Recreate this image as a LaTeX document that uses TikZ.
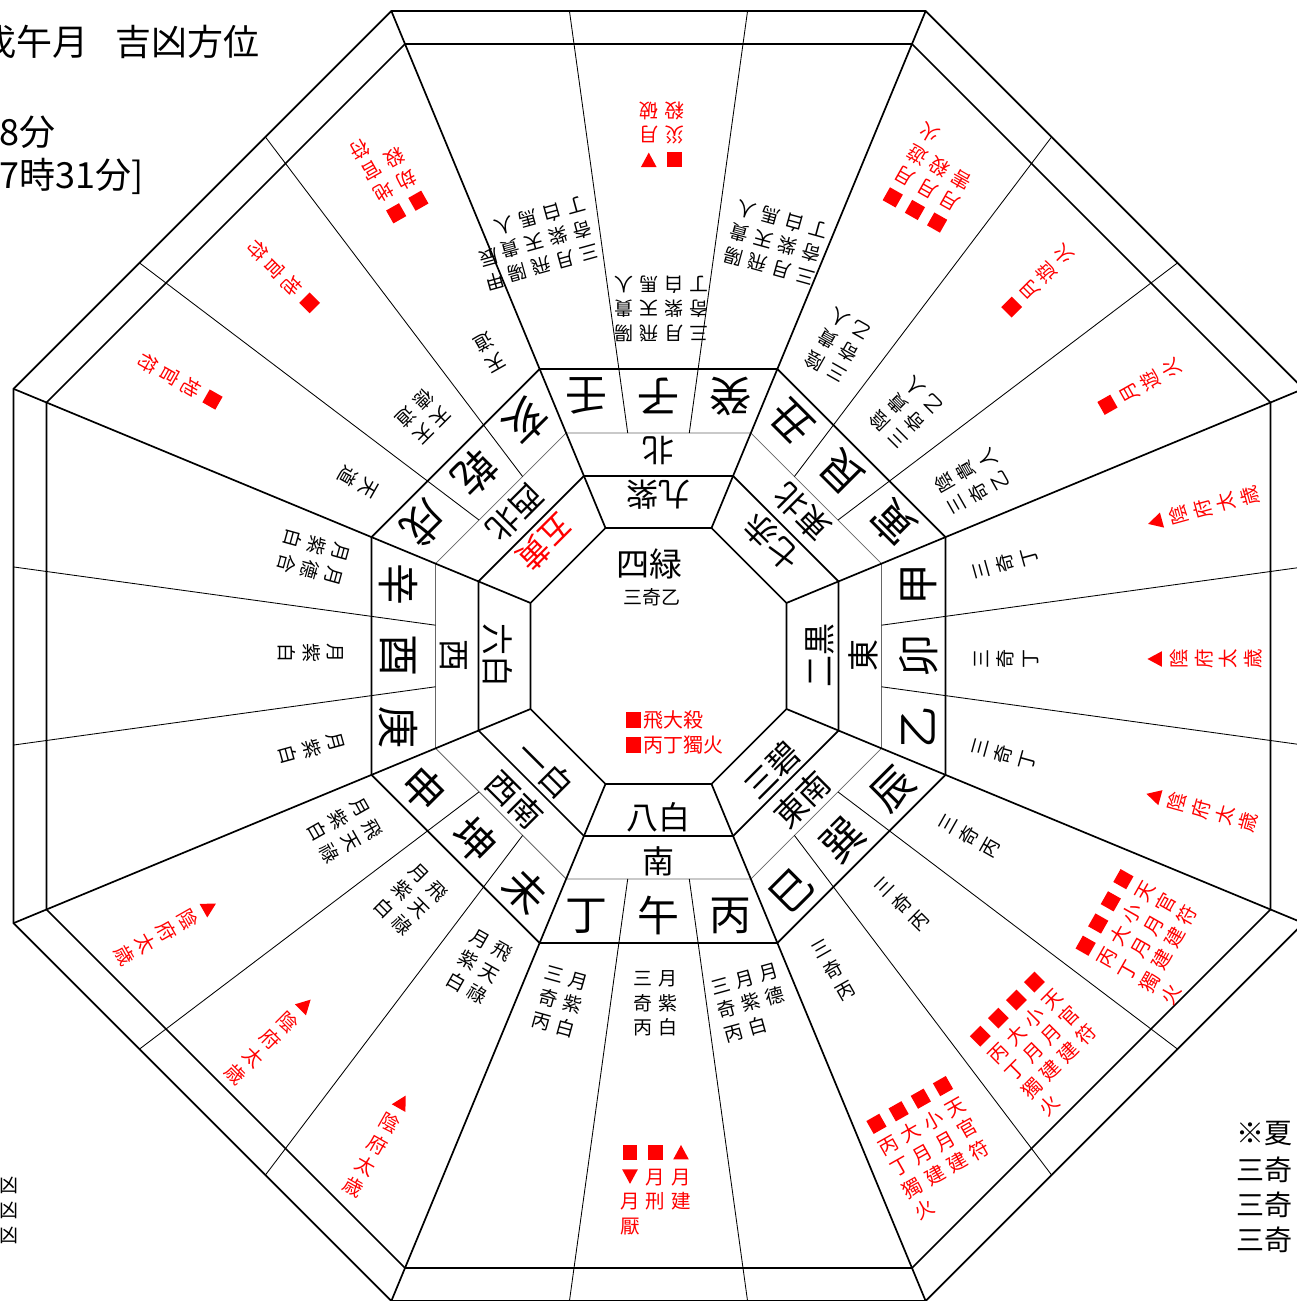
\documentclass[tikz,border=0pt]{standalone}
\usepackage{fontspec}
\setmainfont{Noto Sans CJK JP}
\ExplSyntaxOn
\cs_new_eq:NN \mapchars \tl_map_inline:nn
\cs_new_eq:NN \mapcols \clist_map_inline:nn
\ExplSyntaxOff
\newlength\vp
\setlength\vp{24.5pt}
\newlength\cg
\setlength\cg{6pt}
\newcommand\vch[1]{\hbox to 1em{\hss\vrule width 0pt height .8\vp depth .2\vp\relax#1\hss}}
\newcommand\vcol[1]{\vtop{\offinterlineskip\mapchars{#1}{\vch{##1}}}}
\newcommand\vb[1]{\mapcols{#1}{\vcol{##1}\hskip\cg}\hskip-\cg\relax}
\newcommand\sq{\rule{0.76em}{0.76em}}
\newcommand\tup{\tikz[baseline=0pt]\fill[red] (0,0.02em) -- (0.8em,0.02em) -- (0.4em,0.76em) -- cycle;}
\newcommand\tdn{\tikz[baseline=0pt]\fill[red] (0,0.76em) -- (0.8em,0.76em) -- (0.4em,0.02em) -- cycle;}
\newcommand\octa[2]{\draw[#1] (22.5:{#2*1.0823922}) foreach \k in {1,...,7}{ -- ({22.5+45*\k}:{#2*1.0823922})} -- cycle;}
\newcommand\blk[6]{\node[#5,rotate={#2+(#3)+90},anchor=north] (#1) at ({#2+(#3)}:{#4/cos(#3)}) {#6};}
\newcommand\rc[6]{\node[#5,rotate={#2+90}] (#1) at ({#2+(#3)}:{#4/cos(#3)}) {#6};}
\def\P{15.4368}
\def\M{-15.4368}
\begin{document}
\begin{tikzpicture}[x=1pt,y=1pt,
  thk/.style={line width=1.7pt},
  thn/.style={line width=0.85pt},
  gr/.style={line width=0.85pt,draw=black!60},
  bt/.style={inner sep=0pt,font=\fontsize{19}{24}\selectfont},
  rt/.style={inner sep=0pt,text=red,font=\fontsize{19.5}{24}\selectfont},
  r4/.style={inner sep=0pt,font=\fontsize{42}{48}\selectfont},
  r3/.style={inner sep=0pt,font=\fontsize{32}{38}\selectfont},
  r2/.style={inner sep=0pt,font=\fontsize{32}{38}\selectfont}]
\useasboundingbox (0,0) rectangle (1297,1301);
\clip (0,0) rectangle (1297,1301);
\fill[white] (0,0) rectangle (1297,1301);
\begin{scope}[shift={(658.5,645)}]
% octagons
\octa{thk}{128}
\octa{thk}{180}
\octa{gr}{223}
\octa{thk}{287}
\octa{thk}{612}
\octa{thk}{645}
% corner radials
\foreach \k in {0,...,7}
  \draw[thk] ({22.5+45*\k}:{128*1.0823922}) -- ({22.5+45*\k}:{645*1.0823922});
% sub divisions
\foreach \s in {0,45,...,315}
  \foreach \d in {-7.8611,7.8611}
    \draw[thn] ({\s+\d}:{223*1.009486}) -- ({\s+\d}:{645*1.009486});
% centre
\node[inner sep=0pt,font=\fontsize{33}{40}\selectfont] (c1) at (-9.5,92) {四緑};
\node[bt] (c2) at (-6.5,59) {三奇乙};
\node[inner sep=0pt,text=red,font=\fontsize{20}{24}\selectfont,anchor=west] (c3) at (-35,-64) {\makebox[1em]{\sq}飛大殺};
\node[inner sep=0pt,text=red,font=\fontsize{20}{24}\selectfont,anchor=west] (c4) at (-35,-89) {\makebox[1em]{\sq}丙丁獨火};
% ring 2
\rc{s1}{90}{0}{161}{r2}{九紫}
\rc{s2}{45}{0}{161}{r2}{七赤}
\rc{s3}{0}{0}{161}{r2}{二黒}
\rc{s4}{-45}{0}{161}{r2}{三碧}
\rc{s5}{-90}{0}{161}{r2}{八白}
\rc{s6}{-135}{0}{161}{r2}{一白}
\rc{s7}{180}{0}{161}{r2}{六白}
\rc{s8}{135}{0}{161}{r2,text=red}{五黄}
% ring 3
\rc{d1}{90}{0}{205}{r3}{北}
\rc{d2}{45}{0}{203}{r3}{東北}
\rc{d3}{0}{0}{205}{r3}{東}
\rc{d4}{-45}{0}{203}{r3}{東南}
\rc{d5}{-90}{0}{205}{r3}{南}
\rc{d6}{-135}{0}{203}{r3}{西南}
\rc{d7}{180}{0}{205}{r3}{西}
\rc{d8}{135}{0}{203}{r3}{西北}
% ring 4
\rc{m1}{90}{\P}{260}{r4}{壬}
\rc{m2}{90}{0}{260}{r4}{子}
\rc{m3}{90}{\M}{260}{r4}{癸}
\rc{m4}{45}{\P}{260}{r4}{丑}
\rc{m5}{45}{0}{260}{r4}{艮}
\rc{m6}{45}{\M}{260}{r4}{寅}
\rc{m7}{0}{\P}{260}{r4}{甲}
\rc{m8}{0}{0}{260}{r4}{卯}
\rc{m9}{0}{\M}{260}{r4}{乙}
\rc{m10}{-45}{\P}{260}{r4}{辰}
\rc{m11}{-45}{0}{260}{r4}{巽}
\rc{m12}{-45}{\M}{260}{r4}{巳}
\rc{m13}{-90}{\P}{260}{r4}{丙}
\rc{m14}{-90}{0}{260}{r4}{午}
\rc{m15}{-90}{\M}{260}{r4}{丁}
\rc{m16}{-135}{\P}{260}{r4}{未}
\rc{m17}{-135}{0}{260}{r4}{坤}
\rc{m18}{-135}{\M}{260}{r4}{申}
\rc{m19}{180}{\P}{260}{r4}{庚}
\rc{m20}{180}{0}{260}{r4}{酉}
\rc{m21}{180}{\M}{260}{r4}{辛}
\rc{m22}{135}{\P}{260}{r4}{戌}
\rc{m23}{135}{0}{260}{r4}{乾}
\rc{m24}{135}{\M}{260}{r4}{亥}
% black outer texts
\blk{bRen}{90}{\P}{380}{bt}{\vb{三奇丁,月紫白,飛天馬,陽貴人}}
\node[bt,rotate={195.4368},anchor=north] (bJia) at (-162.5,361) {\vb{甲辰}};
\blk{bZi}{90}{0}{310}{bt}{\vb{三奇丁,月紫白,飛天馬,陽貴人}}
\blk{bGui}{90}{\M}{378}{bt}{\vb{三奇丁,月紫白,飛天馬,陽貴人}}
\blk{bChou}{45}{\P}{310}{bt}{\vb{三奇乙,陰貴人}}
\blk{bGen}{45}{0}{310}{bt}{\vb{三奇乙,陰貴人}}
\blk{bYin}{45}{\M}{310}{bt}{\vb{三奇乙,陰貴人}}
\blk{bJ}{0}{\P}{310}{bt}{\vb{三奇丁}}
\blk{bMao}{0}{0}{310}{bt}{\vb{三奇丁}}
\blk{bYi}{0}{\M}{310}{bt}{\vb{三奇丁}}
\blk{bChen}{-45}{\P}{310}{bt}{\vb{三奇丙}}
\blk{bXun}{-45}{0}{310}{bt}{\vb{三奇丙}}
\blk{bSi}{-45}{\M}{310}{bt}{\vb{三奇丙}}
\blk{bBing}{-90}{\P}{310}{bt}{\vb{三奇丙,月紫白,月德}}
\blk{bWu}{-90}{0}{310}{bt}{\vb{三奇丙,月紫白}}
\blk{bDing}{-90}{\M}{310}{bt}{\vb{三奇丙,月紫白}}
\blk{bWei}{-135}{\P}{310}{bt}{\vb{月紫白,飛天祿}}
\blk{bKun}{-135}{0}{310}{bt}{\vb{月紫白,飛天祿}}
\blk{bShen}{-135}{\M}{310}{bt}{\vb{月紫白,飛天祿}}
\blk{bGeng}{180}{\P}{310}{bt}{\vb{月紫白}}
\blk{bYou}{180}{0}{310}{bt}{\vb{月紫白}}
\blk{bXin}{180}{\M}{310}{bt}{\vb{月紫白,月德合}}
\blk{bXu}{135}{\P}{310}{bt}{\vb{天道}}
\blk{bQian}{135}{0}{310}{bt}{\vb{天德,天道}}
\blk{bHai}{135}{\M}{310}{bt}{\vb{天道}}
% red outer texts
\blk{rZi}{90}{0}{484}{rt}{\vb{\sq 災殺,\tdn 月破}}
\blk{rChou}{45}{\P}{484}{rt}{\vb{\sq 月害,\sq 月殺,\sq 月遊火}}
\blk{rGen}{45}{0}{484}{rt}{\vb{\sq 月遊火}}
\blk{rYin}{45}{\M}{484}{rt}{\vb{\sq 月遊火}}
\blk{rJia}{0}{\P}{484}{rt}{\vb{\tup 陰府太歳}}
\blk{rMao}{0}{0}{484}{rt}{\vb{\tup 陰府太歳}}
\blk{rYi}{0}{\M}{484}{rt}{\vb{\tup 陰府太歳}}
\blk{rChen}{-45}{\P}{484}{rt}{\vb{\sq 丙丁獨火,\sq 大月建,\sq 小月建,\sq 天官符}}
\blk{rXun}{-45}{0}{484}{rt}{\vb{\sq 丙丁獨火,\sq 大月建,\sq 小月建,\sq 天官符}}
\blk{rSi}{-45}{\M}{484}{rt}{\vb{\sq 丙丁獨火,\sq 大月建,\sq 小月建,\sq 天官符}}
\blk{rWu}{-90}{0}{484}{rt}{\vb{\sq\tdn 月厭,\sq 月刑,\tup 月建}}
\blk{rWei}{-135}{\P}{484}{rt}{\vb{\tup 陰府太歳}}
\blk{rKun}{-135}{0}{484}{rt}{\vb{\tup 陰府太歳}}
\blk{rShen}{-135}{\M}{484}{rt}{\vb{\tup 陰府太歳}}
\blk{rXu}{135}{\P}{484}{rt}{\vb{\sq 地官符}}
\blk{rQian}{135}{0}{484}{rt}{\vb{\sq 地官符}}
\blk{rHai}{135}{\M}{484}{rt}{\vb{\sq 劫殺,\sq 地官符}}
\end{scope}
% margin texts
\node[inner sep=0pt,font=\fontsize{36}{42}\selectfont,anchor=east] (title) at (260,1258.5) {戊午月\hspace{27pt}吉凶方位};
\node[inner sep=0pt,font=\fontsize{36}{42}\selectfont,anchor=west] (t2) at (-1,1168.5) {8分};
\node[inner sep=0pt,font=\fontsize{36}{42}\selectfont,anchor=west] (t3) at (-1,1125) {7時31分]};
\node[bt,anchor=west] (k1) at (-1,116) {凶};
\node[bt,anchor=west] (k2) at (-1,91) {凶};
\node[bt,anchor=west] (k3) at (-1,66) {凶};
\node[inner sep=0pt,font=\fontsize{28}{34}\selectfont,anchor=west] (n1) at (1236,167) {※夏};
\node[inner sep=0pt,font=\fontsize{28}{34}\selectfont,anchor=west] (n2) at (1236,131) {三奇};
\node[inner sep=0pt,font=\fontsize{28}{34}\selectfont,anchor=west] (n3) at (1236,96) {三奇};
\node[inner sep=0pt,font=\fontsize{28}{34}\selectfont,anchor=west] (n4) at (1236,61) {三奇};
\end{tikzpicture}
\end{document}
